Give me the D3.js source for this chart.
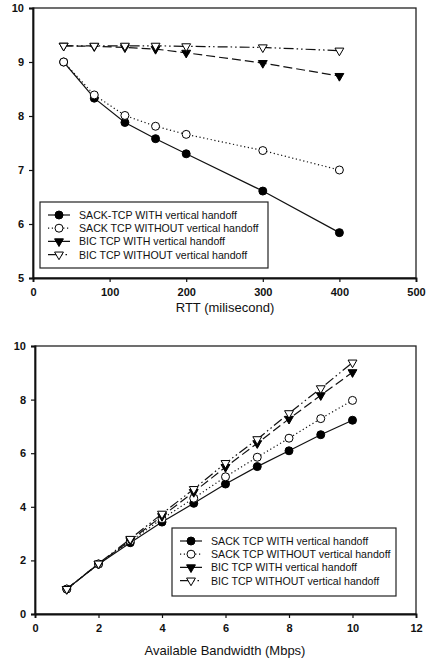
<!DOCTYPE html>
<html>
<head>
<meta charset="utf-8">
<script src="https://cdn.jsdelivr.net/npm/d3@7"></script>
<style>
  body { margin: 0; background: #fff; }
  svg { display: block; font-family: "Liberation Sans", Arial, sans-serif; }
</style>
</head>
<body>
<svg width="429" height="659"></svg>
<script>
// data
const seriesNames = [
  ["SACK-TCP WITH vertical handoff", "SACK TCP WITHOUT vertical handoff",
   "BIC TCP WITH vertical handoff", "BIC TCP WITHOUT vertical handoff"],
  ["SACK TCP WITH vertical handoff", "SACK TCP WITHOUT vertical handoff",
   "BIC TCP WITH vertical handoff", "BIC TCP WITHOUT vertical handoff"]
];

const rtt = [40, 80, 120, 160, 200, 300, 400];
const rttSackWith = [9.0, 8.33, 7.88, 7.58, 7.3, 6.61, 5.84];
const rttSackWithout = [9.0, 8.39, 8.01, 7.81, 7.66, 7.36, 7.0];
const rttBicWith = [9.3, 9.29, 9.27, 9.24, 9.17, 8.98, 8.74];
const rttBicWithout = [9.3, 9.3, 9.3, 9.3, 9.29, 9.27, 9.21];

const bw = [1, 2, 3, 4, 5, 6, 7, 8, 9, 10];
const bwSackWith = [0.93, 1.86, 2.66, 3.43, 4.13, 4.85, 5.5, 6.09, 6.69, 7.23];
const bwSackWithout = [0.93, 1.87, 2.72, 3.55, 4.32, 5.12, 5.85, 6.56, 7.29, 7.97];
const bwBicWith = [0.93, 1.87, 2.75, 3.65, 4.55, 5.48, 6.37, 7.28, 8.16, 9.02];
const bwBicWithout = [0.93, 1.88, 2.8, 3.74, 4.66, 5.63, 6.52, 7.49, 8.42, 9.38];

const rttTicksX = [0, 100, 200, 300, 400, 500];
const rttTicksY = [5, 6, 7, 8, 9, 10];
const bwTicksX = [0, 2, 4, 6, 8, 10, 12];
const bwTicksY = [0, 2, 4, 6, 8, 10];

const svg = d3.select("svg");

// line style and marker of each series
const styles = [
  {dash: null, fill: "#000", shape: "circle"},
  {dash: "1.2,2.6", fill: "#fff", shape: "circle"},
  {dash: "9,4", fill: "#000", shape: "tri"},
  {dash: "10,3,1.5,3,1.5,3", fill: "#fff", shape: "tri"}
];

function marker(g, shape, fill) {
  if (shape === "circle") {
    g.append("circle").attr("r", 4).attr("fill", fill)
      .attr("stroke", "#000").attr("stroke-width", 1);
  } else {
    g.append("path")
      .attr("d", d3.symbol().type(d3.symbolTriangle).size(34)())
      .attr("transform", "rotate(180)")
      .attr("fill", fill).attr("stroke", "#000").attr("stroke-width", 1);
  }
}

function drawPanel(p) {
  const x = d3.scaleLinear().domain(p.xDomain).range(p.xRange);
  const y = d3.scaleLinear().domain(p.yDomain).range(p.yRange);
  const g = svg.append("g");

  // frame
  g.append("rect")
    .attr("x", p.xRange[0]).attr("y", p.yRange[1])
    .attr("width", p.xRange[1] - p.xRange[0])
    .attr("height", p.yRange[0] - p.yRange[1])
    .attr("fill", "none").attr("stroke", "#222").attr("stroke-width", 1.3);

  const xAxis = g.append("g")
    .attr("transform", `translate(0,${p.yRange[0]})`)
    .call(d3.axisBottom(x).tickValues(p.xTicks).tickFormat(d3.format("d"))
      .tickSize(4).tickPadding(6));
  const yAxis = g.append("g")
    .attr("transform", `translate(${p.xRange[0]},0)`)
    .call(d3.axisLeft(y).tickValues(p.yTicks).tickFormat(d3.format("d"))
      .tickSize(4).tickPadding(5));
  [xAxis, yAxis].forEach(a => {
    a.select(".domain").attr("stroke", "#111").attr("stroke-width", 1.8);
    a.selectAll(".tick line").attr("stroke", "#111").attr("stroke-width", 1.2);
    a.selectAll(".tick text").attr("fill", "#111")
      .style("font-size", "11px").style("font-weight", "bold");
  });

  g.append("text")
    .attr("x", p.titleX).attr("y", p.titleY)
    .attr("text-anchor", "middle")
    .style("font-size", "13px").attr("fill", "#111")
    .text(p.title);

  const line = d3.line().x(d => x(d[0])).y(d => y(d[1]));
  p.series.forEach((vals, i) => {
    const pts = p.xs.map((v, j) => [v, vals[j]]);
    const st = styles[i];
    g.append("path").datum(pts)
      .attr("d", line).attr("fill", "none")
      .attr("stroke", "#111").attr("stroke-width", 1.2)
      .attr("stroke-dasharray", st.dash);
    g.selectAll(null).data(pts).join("g")
      .attr("transform", d => `translate(${x(d[0])},${y(d[1])})`)
      .each(function () { marker(d3.select(this), st.shape, st.fill); });
  });

  // legend
  const lg = g.append("g").attr("transform", `translate(${p.legend.x},${p.legend.y})`);
  lg.append("rect").attr("width", p.legend.w).attr("height", p.legend.h)
    .attr("fill", "#fff").attr("stroke", "#222").attr("stroke-width", 1.2);
  p.names.forEach((name, i) => {
    const row = lg.append("g").attr("transform", `translate(8,${13 + i * 13.2})`);
    row.append("line").attr("x1", 0).attr("x2", 22)
      .attr("stroke", "#111").attr("stroke-width", 1.2)
      .attr("stroke-dasharray", styles[i].dash);
    marker(row.append("g").attr("transform", "translate(11,0)"), styles[i].shape, styles[i].fill);
    row.append("text").attr("x", 31).attr("y", 4)
      .style("font-size", "10.6px").attr("fill", "#111")
      .text(name);
  });
}

drawPanel({
  xDomain: [0, 500], xRange: [33, 416],
  yDomain: [5, 10], yRange: [278, 8],
  xTicks: rttTicksX, yTicks: rttTicksY,
  xs: rtt, series: [rttSackWith, rttSackWithout, rttBicWith, rttBicWithout],
  names: seriesNames[0],
  title: "RTT (milisecond)", titleX: 225, titleY: 312,
  legend: {x: 40, y: 202, w: 228, h: 66}
});

drawPanel({
  xDomain: [0, 12], xRange: [35, 416],
  yDomain: [0, 10], yRange: [614, 346],
  xTicks: bwTicksX, yTicks: bwTicksY,
  xs: bw, series: [bwSackWith, bwSackWithout, bwBicWith, bwBicWithout],
  names: seriesNames[1],
  title: "Available Bandwidth (Mbps)", titleX: 225, titleY: 655,
  legend: {x: 172, y: 528, w: 224, h: 68}
});
</script>
</body>
</html>
